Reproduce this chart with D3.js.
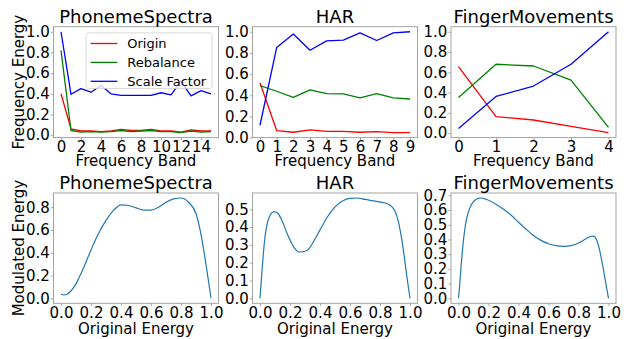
<!DOCTYPE html>
<html><head><meta charset="utf-8">
<script src="https://cdn.jsdelivr.net/npm/d3@7"></script>
<style>html,body{margin:0;padding:0;background:#fff;} svg{display:block;font-family:"DejaVu Sans",sans-serif;}</style>
</head><body><svg id="c" width="630" height="339"></svg>
<script>
// ---------- data ----------
const seriesNames = ["Origin", "Rebalance", "Scale Factor"];

const phonemeBands = [0,1,2,3,4,5,6,7,8,9,10,11,12,13,14,15];
const phonemeOrigin = [0.40,0.06,0.04,0.04,0.035,0.04,0.055,0.045,0.045,0.055,0.04,0.04,0.03,0.05,0.04,0.04];
const phonemeRebalance = [0.82,0.045,0.03,0.035,0.03,0.035,0.045,0.035,0.04,0.045,0.035,0.035,0.025,0.04,0.03,0.035];
const phonemeScale = [1.0,0.395,0.45,0.415,0.48,0.40,0.385,0.385,0.385,0.385,0.41,0.39,0.52,0.38,0.43,0.40];

const harBands = [0,1,2,3,4,5,6,7,8,9];
const harOrigin = [0.517,0.067,0.051,0.073,0.06,0.06,0.051,0.057,0.048,0.048];
const harRebalance = [0.492,0.438,0.381,0.451,0.416,0.413,0.375,0.416,0.375,0.365];
const harScale = [0.117,0.851,0.978,0.825,0.914,0.921,0.99,0.917,0.99,1.0];

const fingerBands = [0,1,2,3,4];
const fingerOrigin = [0.656,0.162,0.129,0.066,0.005];
const fingerRebalance = [0.351,0.679,0.662,0.523,0.056];
const fingerScale = [0.046,0.361,0.464,0.679,1.0];

const phonemeCurveX = [0,0.02,0.04,0.06,0.08,0.10,0.12,0.15,0.2,0.25,0.3,0.35,0.4,0.45,0.5,0.55,0.6,0.65,0.7,0.75,0.8,0.85,0.9,0.93,0.96,0.98,1.0];
const phonemeCurveY = [0.035,0.029,0.035,0.055,0.087,0.127,0.18,0.266,0.425,0.569,0.685,0.772,0.821,0.815,0.795,0.775,0.775,0.80,0.844,0.873,0.881,0.844,0.743,0.584,0.353,0.18,0.0];

const harCurveX = [0,0.01,0.02,0.03,0.04,0.05,0.07,0.09,0.10,0.12,0.15,0.18,0.2,0.23,0.26,0.3,0.33,0.36,0.4,0.45,0.5,0.55,0.6,0.65,0.7,0.75,0.8,0.85,0.88,0.9,0.92,0.94,0.96,0.98,1.0];
const harCurveY = [0.0,0.116,0.227,0.319,0.384,0.426,0.47,0.485,0.485,0.476,0.43,0.365,0.328,0.282,0.26,0.264,0.282,0.323,0.384,0.458,0.513,0.546,0.561,0.563,0.555,0.548,0.541,0.531,0.513,0.489,0.439,0.356,0.245,0.116,0.0];

const fingerCurveX = [0,0.01,0.02,0.03,0.04,0.05,0.07,0.09,0.11,0.13,0.15,0.17,0.2,0.25,0.3,0.35,0.4,0.45,0.5,0.55,0.6,0.65,0.7,0.75,0.8,0.85,0.88,0.9,0.92,0.94,0.96,0.98,1.0];
const fingerCurveY = [0,0.119,0.253,0.365,0.454,0.521,0.60,0.644,0.667,0.68,0.682,0.678,0.667,0.64,0.606,0.566,0.517,0.47,0.427,0.394,0.371,0.358,0.353,0.358,0.376,0.405,0.42,0.423,0.398,0.331,0.23,0.114,0];

const titles = ["PhonemeSpectra", "HAR", "FingerMovements"];
const phonemeXTicks = [0,2,4,6,8,10,12,14];
const harXTicks = [0,1,2,3,4,5,6,7,8,9];
const fingerXTicks = [0,1,2,3,4];
const energyYTicks = [0.0,0.2,0.4,0.6,0.8,1.0];
const originalXTicks = [0.0,0.2,0.4,0.6,0.8,1.0];
const phonemeModYTicks = [0.0,0.2,0.4,0.6,0.8];
const harModYTicks = [0.0,0.1,0.2,0.3,0.4,0.5];
const fingerModYTicks = [0.0,0.1,0.2,0.3,0.4,0.5,0.6,0.7];

// ---------- drawing ----------
const svg = d3.select("#c");
const seriesColors = ["#ff0000", "#008000", "#0000ff"];
const lefts = [53.5, 252.5, 451];
const W = 165;
const rows = [{top: 26.7, bottom: 137.6}, {top: 193, bottom: 303.3}];
const spineColor = "#9a9a9a";

function padDomain(vals) {
  const [a, b] = d3.extent(vals);
  const r = b - a;
  return [a - 0.05 * r, b + 0.05 * r];
}

function panel(o) {
  const g = svg.append("g");
  const x = d3.scaleLinear().domain(padDomain(o.xAll)).range([o.left, o.left + W]);
  const y = d3.scaleLinear().domain(padDomain(o.yAll)).range([o.bottom, o.top]);

  // lines
  o.series.forEach(s => {
    g.append("path")
      .datum(s.x.map((xv, i) => [xv, s.y[i]]))
      .attr("fill", "none")
      .attr("stroke", s.color)
      .attr("stroke-width", s.width || 1.3)
      .attr("stroke-linejoin", "round")
      .attr("d", d3.line().x(d => x(d[0])).y(d => y(d[1])).curve(s.curve || d3.curveLinear));
  });

  // axes
  const xAxis = d3.axisBottom(x).tickValues(o.xTicks).tickFormat(o.xFmt).tickSize(2.5).tickPadding(1.2);
  const yAxis = d3.axisLeft(y).tickValues(o.yTicks).tickFormat(o.yFmt).tickSize(2.5).tickPadding(1.2);
  const gx = g.append("g").attr("transform", `translate(0,${o.bottom})`).call(xAxis);
  const gy = g.append("g").attr("transform", `translate(${o.left},0)`).call(yAxis);
  [gx, gy].forEach(a => {
    a.select(".domain").remove();
    a.selectAll(".tick line").attr("stroke", spineColor).attr("stroke-width", 0.9);
    a.selectAll(".tick text").attr("fill", "#000").style("font-size", "15px").style("font-family", "DejaVu Sans");
  });

  // spines
  g.append("rect").attr("x", o.left).attr("y", o.top).attr("width", W).attr("height", o.bottom - o.top)
    .attr("fill", "none").attr("stroke", spineColor).attr("stroke-width", 0.9);

  // title
  g.append("text").attr("x", o.left + W / 2).attr("y", o.top - 4.2).attr("text-anchor", "middle")
    .style("font-size", "18px").attr("fill", "#000").text(o.title);
  // x label
  g.append("text").attr("x", o.left + W / 2).attr("y", o.xlabelY).attr("text-anchor", "middle")
    .style("font-size", "15px").attr("fill", "#000").text(o.xlabel);
  // y label
  if (o.ylabel) {
    g.append("text").attr("transform", `translate(24,${(o.top + o.bottom) / 2}) rotate(-90)`)
      .attr("text-anchor", "middle").style("font-size", "15px").attr("fill", "#000").text(o.ylabel);
  }

  if (o.legend) {
    const lx = o.left + W - 6.5 - 126, ly = o.top + 6.2;
    const lg = g.append("g");
    lg.append("rect").attr("x", lx).attr("y", ly).attr("width", 126).attr("height", 55.6)
      .attr("rx", 2.5).attr("fill", "#fff").attr("fill-opacity", 0.8)
      .attr("stroke", "#cccccc").attr("stroke-opacity", 0.8).attr("stroke-width", 0.9);
    o.series.forEach((s, i) => {
      const cy = ly + 10.6 + i * 18.9;
      lg.append("line").attr("x1", lx + 4.7).attr("x2", lx + 31.3).attr("y1", cy).attr("y2", cy)
        .attr("stroke", s.color).attr("stroke-width", 1.3);
      lg.append("text").attr("x", lx + 41.3).attr("y", cy).attr("dy", "0.35em")
        .style("font-size", "13px").attr("fill", "#000").text(seriesNames[i]);
    });
  }
}

const topSets = [
  {bands: phonemeBands, vals: [phonemeOrigin, phonemeRebalance, phonemeScale], ticks: phonemeXTicks},
  {bands: harBands, vals: [harOrigin, harRebalance, harScale], ticks: harXTicks},
  {bands: fingerBands, vals: [fingerOrigin, fingerRebalance, fingerScale], ticks: fingerXTicks}
];
topSets.forEach((s, k) => {
  panel({
    left: lefts[k], top: rows[0].top, bottom: rows[0].bottom,
    xAll: s.bands, yAll: [].concat(...s.vals),
    series: s.vals.map((v, i) => ({x: s.bands, y: v, color: seriesColors[i]})),
    xTicks: s.ticks, xFmt: d3.format("d"),
    yTicks: energyYTicks, yFmt: d3.format(".1f"),
    title: titles[k], xlabel: "Frequency Band", xlabelY: 165.5,
    ylabel: k === 0 ? "Frequency Energy" : null,
    legend: k === 0
  });
});

const botSets = [
  {x: phonemeCurveX, y: phonemeCurveY, yTicks: phonemeModYTicks},
  {x: harCurveX, y: harCurveY, yTicks: harModYTicks},
  {x: fingerCurveX, y: fingerCurveY, yTicks: fingerModYTicks}
];
botSets.forEach((s, k) => {
  panel({
    left: lefts[k], top: rows[1].top, bottom: rows[1].bottom,
    xAll: s.x, yAll: s.y,
    series: [{x: s.x, y: s.y, color: "#1f77b4", width: 1.2, curve: d3.curveMonotoneX}],
    xTicks: originalXTicks, xFmt: d3.format(".1f"),
    yTicks: s.yTicks, yFmt: d3.format(".1f"),
    title: titles[k], xlabel: "Original Energy", xlabelY: 334,
    ylabel: k === 0 ? "Modulated Energy" : null,
    legend: false
  });
});
</script></body></html>
